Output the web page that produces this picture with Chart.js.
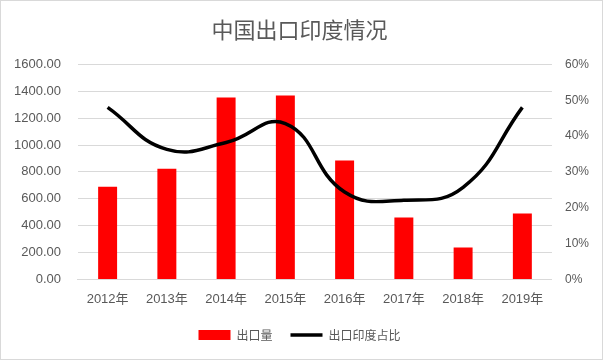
<!DOCTYPE html>
<html><head><meta charset="utf-8">
<script src="https://cdn.jsdelivr.net/npm/chart.js@4"></script>
<style>
html,body{margin:0;padding:0;background:#fff;}
#wrap{position:absolute;left:0;top:0;width:601px;height:358px;border:1px solid #d9d9d9;}
</style></head>
<body><div id="wrap"><canvas id="c" width="601" height="358"></canvas></div>
<script>
const categories = ['2012年','2013年','2014年','2015年','2016年','2017年','2018年','2019年'];
const exportVolume = [690, 824, 1354, 1369, 885, 461, 238, 491];
const indiaShare = [0.48, 0.363, 0.382, 0.435, 0.244, 0.221, 0.257, 0.48];
const leftTicks = [0, 200, 400, 600, 800, 1000, 1200, 1400, 1600];
const rightTicks = [0, 0.1, 0.2, 0.3, 0.4, 0.5, 0.6];

const txt = '#595959';
const fontFam = "'Liberation Sans', 'Noto Sans CJK SC', sans-serif";
new Chart(document.getElementById('c'), {
  data: {
    labels: categories,
    datasets: [
      {type:'line', label:'出口印度占比', data: indiaShare, yAxisID:'y1', borderColor:'#000', backgroundColor:'#000',
       borderWidth:3.5, pointRadius:0, tension:0.45, pointStyle:'line', order:0},
      {type:'bar', label:'出口量', data: exportVolume, yAxisID:'y', backgroundColor:'#ff0000', borderColor:'#ff0000',
       barPercentage:0.32, categoryPercentage:1, pointStyle:'rect', order:1}
    ]
  },
  options: {
    responsive:false, animation:false,
    layout:{padding:{left:-4, right:0, top:0, bottom:8}},
    plugins:{
      title:{display:true, text:'中国出口印度情况', color:txt, font:{family:"'Noto Sans CJK SC', sans-serif", size:22, weight:'normal'}, padding:{top:15, bottom:22}},
      legend:{position:'bottom', reverse:true, labels:{usePointStyle:true, pointStyleWidth:32, boxHeight:10, color:txt, padding:18,
        font:{family:"'Noto Sans CJK SC', sans-serif", size:12}}},
      tooltip:{enabled:false}
    },
    scales:{
      x:{grid:{display:false}, border:{color:'#d9d9d9'}, ticks:{color:txt, font:{family:fontFam, size:13}, padding:4}},
      y:{position:'left', min:0, max:1600, afterBuildTicks:(a)=>{a.ticks=leftTicks.map(v=>({value:v}));},
         grid:{color:'#d9d9d9', lineWidth:1, drawTicks:false}, border:{display:false},
         ticks:{color:txt, font:{family:fontFam, size:13}, padding:17, callback:(v)=>Number(v).toFixed(2)}},
      y1:{position:'right', min:0, max:0.6, afterBuildTicks:(a)=>{a.ticks=rightTicks.map(v=>({value:v}));},
         grid:{display:false, drawTicks:false}, border:{display:false},
         ticks:{color:txt, font:{family:fontFam, size:12}, padding:13, callback:(v)=>Math.round(v*100)+'%'}}
    }
  }
});
</script></body></html>
